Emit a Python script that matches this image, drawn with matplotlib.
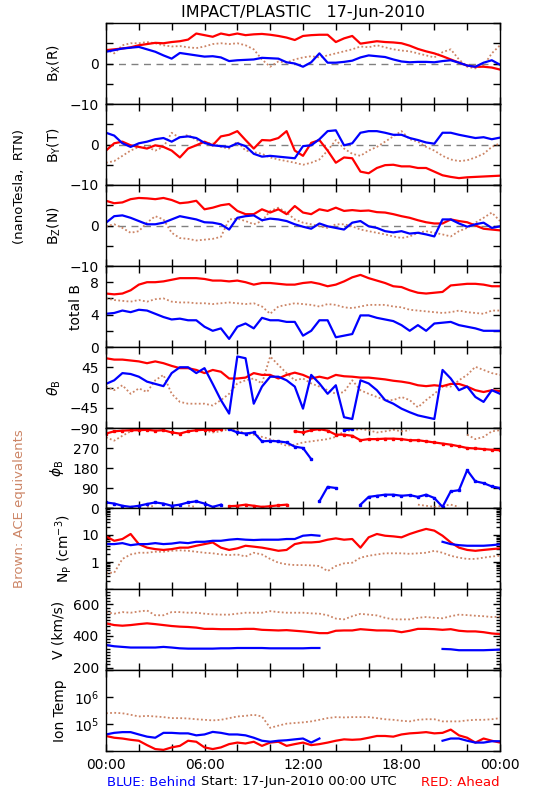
import numpy as np
import matplotlib
matplotlib.use('Agg')
import matplotlib.pyplot as plt
from matplotlib.ticker import MultipleLocator, FixedLocator, LogLocator, NullFormatter

nan = np.nan

# half-hour samples over the day (hours since 17-Jun-2010 00:00 UTC)
hours = np.linspace(0, 24, 49)

# B_R (nT)
bx_red = [3.3, 3.5, 3.7, 4.0, 4.5, 4.8, 5.1, 5.0, 5.3, 5.5, 5.9, 7.4, 7.0, 6.6, 7.4, 7.0, 7.4,
          7.0, 7.2, 7.3, 7.1, 6.8, 6.4, 5.8, 6.8, 7.0, 7.1, 7.1, 5.3, 6.2, 6.8, 4.9, 5.2, 5.5,
          5.3, 5.2, 5.0, 4.4, 3.6, 3.0, 2.5, 1.8, 1.0, 0.2, -0.5, -0.8, -0.8, -1.0, -1.5]
bx_blue = [2.9, 3.3, 3.7, 3.9, 4.1, 3.5, 2.9, 2.0, 1.2, 2.6, 2.3, 2.0, 1.7, 1.8, 1.5, 0.6, 0.8,
           0.9, 1.0, 1.4, 1.3, 1.2, 0.3, 0.0, -0.8, 0.3, 2.5, 0.2, 0.2, 0.4, 0.7, 1.5, 2.0, 1.8,
           1.6, 1.0, 0.5, 0.3, 0.4, 0.4, 0.3, 0.6, 0.8, 0.2, -0.5, -0.8, 0.2, 0.8, -0.3]
bx_ace = [3.5, 2.5, 4.5, 5.0, 5.0, 5.3, 5.0, 4.5, 4.2, 4.3, 4.0, 3.8, 4.2, 4.8, 5.0, 4.8, 5.0,
          4.5, 3.5, 1.0, -0.8, 0.5, 0.2, 1.0, 1.5, 1.8, 1.5, 2.0, 2.5, 3.0, 3.5, 4.2, 4.0, 4.5,
          4.0, 3.5, 3.2, 3.0, 2.5, 2.0, 1.5, 2.8, 3.5, 1.0, -0.8, -1.2, -0.5, 2.5, 4.5]

# B_T (nT)
by_red = [-1.5, 0.3, 0.7, -0.2, -0.6, -1.0, -0.2, -0.6, -1.5, -3.2, -1.0, -0.2, 0.7, -0.2, 2.0,
          2.4, 3.3, 1.1, -1.0, 1.1, 1.0, 1.6, 3.3, -1.5, -2.8, 0.4, 1.1, -1.5, -4.5, -3.2, -3.4,
          -6.7, -7.1, -5.8, -5.1, -5.0, -5.4, -5.4, -5.8, -5.8, -6.7, -7.6, -8.0, -8.3, -8.1,
          -8.0, -7.9, -7.8, -7.7]
by_blue = [2.9, 2.2, 0.3, -0.6, 0.3, 0.7, 1.3, 1.6, 0.7, 1.8, 2.0, 1.6, 0.4, -0.2, -0.4, -0.6,
           0.3, -0.4, -2.3, -3.0, -2.8, -3.0, -3.2, -3.4, -0.4, -0.2, 1.3, 3.3, 3.5, -0.2, 0.3,
           2.9, 3.3, 3.3, 2.9, 2.4, 2.4, 1.6, 1.1, 0.5, 0.2, 2.9, 2.9, 2.4, 2.0, 1.6, 1.8, 1.3, 1.7]
by_ace = [-4.5, -4.1, -2.8, -1.5, -0.6, -0.6, -1.5, -0.6, 2.9, 1.6, 2.4, 1.1, 0.3, 0.3, -0.6,
          -1.0, 0.7, -1.5, -1.9, -2.3, -3.2, -3.7, -4.1, -4.5, -5.0, -4.5, -3.7, -1.5, 1.1, -1.0,
          -2.3, -2.8, -1.5, -0.6, 0.7, 2.0, 3.3, 1.3, 0.7, -0.6, -1.5, -2.8, -3.7, -4.1, -3.9,
          -3.2, -2.3, -0.6, 0.3]

# B_N (nT)
bz_red = [6.1, 5.5, 5.7, 6.5, 6.8, 6.7, 6.5, 6.8, 6.3, 5.5, 5.7, 6.1, 4.0, 4.4, 5.0, 5.3, 3.6,
          2.8, 2.8, 4.0, 3.2, 4.0, 2.8, 4.8, 3.2, 2.8, 4.0, 3.6, 4.4, 3.6, 3.8, 3.6, 3.7, 3.3,
          3.2, 2.8, 2.3, 1.9, 1.3, 0.8, 0.5, 0.5, 1.5, 1.1, 0.8, 0.0, -0.8, -1.0, -1.2]
bz_blue = [0.7, 2.3, 2.5, 1.9, 1.1, 0.3, 0.3, 0.7, 1.5, 2.3, 1.9, 1.5, 0.8, 0.7, 0.3, -1.0, 1.9,
           2.3, 2.5, 1.3, 1.7, 1.5, 1.1, 0.3, -0.3, -0.8, 0.5, -0.2, -0.6, -1.0, 0.7, 1.1, -0.2,
           -0.6, -1.4, -1.7, -1.4, -2.0, -1.8, -2.2, -2.7, 1.5, 1.5, 0.5, -0.3, 0.3, 0.7, -0.6, -0.2]
bz_ace = [-0.2, 0.3, -0.6, -1.8, -1.4, 0.7, 2.3, 1.5, -1.8, -3.1, -3.3, -3.7, -3.5, -3.3, -2.8,
          1.5, 1.7, 1.1, 0.3, 1.1, 3.6, 4.4, 3.2, 1.5, 0.7, 0.3, -0.2, -0.6, 0.3, 0.3, -0.2, -1.0,
          -1.4, -1.8, -2.2, -2.7, -3.1, -2.7, -1.8, -1.4, -1.8, -2.2, -2.7, -1.4, -0.6, 0.7, 1.9,
          3.2, 1.1]

# |B| (nT)
bt_red = [6.6, 6.5, 6.6, 7.0, 7.7, 8.0, 8.0, 8.1, 8.3, 8.5, 8.5, 8.5, 8.4, 8.2, 8.2, 8.1, 8.2,
          8.0, 7.7, 7.9, 7.9, 7.8, 7.7, 7.7, 7.9, 8.0, 7.8, 7.5, 7.7, 8.1, 8.6, 8.9, 8.5, 8.2,
          7.9, 7.5, 7.4, 7.0, 6.7, 6.6, 6.7, 6.8, 7.6, 7.7, 7.8, 7.8, 7.7, 7.5, 7.5]
bt_blue = [4.1, 4.2, 4.5, 4.3, 4.6, 4.5, 4.1, 3.7, 3.4, 3.5, 3.3, 3.3, 2.5, 2.0, 2.3, 1.0, 2.5,
           2.9, 2.3, 3.6, 3.3, 3.3, 3.1, 3.1, 1.4, 2.0, 3.3, 3.3, 1.2, 1.4, 1.6, 3.9, 3.9, 3.6,
           3.4, 3.2, 2.7, 2.0, 2.7, 2.0, 2.9, 3.0, 3.1, 2.7, 2.5, 2.3, 2.0, 2.0, 2.0]
bt_ace = [6.0, 5.8, 5.7, 5.6, 5.8, 5.6, 5.9, 6.0, 5.6, 5.5, 5.5, 5.4, 5.4, 5.3, 5.4, 5.5, 5.4,
          5.3, 5.4, 5.0, 4.1, 5.0, 5.2, 5.4, 5.3, 5.2, 5.0, 5.3, 5.2, 4.9, 4.8, 5.0, 5.2, 5.2,
          5.2, 5.0, 4.9, 4.6, 4.5, 4.4, 4.3, 4.2, 4.3, 4.5, 4.3, 4.2, 4.1, 4.5, 4.5]

# theta_B (deg)
th_red = [65, 62, 62, 60, 58, 54, 58, 54, 48, 43, 43, 39, 32, 39, 35, 20, 20, 22, 32, 28, 28,
          20, 28, 33, 28, 20, 24, 20, 28, 25, 24, 22, 22, 20, 18, 15, 13, 10, 5, 3, 5, 3, 8, 8,
          2, -6, -10, -6, -8]
th_blue = [8, 16, 32, 30, 24, 13, 8, 3, 32, 45, 45, 32, 43, 8, -28, -58, 69, 65, -36, 2, 24, 24,
           16, 2, -47, 28, 9, -14, 5, -66, -70, 16, 9, -6, -28, -36, -47, -55, -62, -66, -70, 39,
           20, -6, 2, -21, -32, -6, -14]
th_ace = [2, -6, 5, -14, -2, -10, 16, 28, -14, -32, -36, -36, -36, -40, -28, -14, 9, 16, 20, 9,
          69, 50, 32, 16, 20, 9, 2, -6, -14, -10, 16, -6, -14, -21, -28, -28, -21, -28, -44, -28,
          -14, 2, 2, 16, 28, 46, 39, 32, 28]

# phi_B (deg)
ph_red = [335, 345, 348, 350, 350, 352, 348, 350, 340, 335, 345, 350, 352, 350, 355, 8, 10, 15,
          10, 5, 8, 12, 15, 345, 340, 350, 355, 348, 330, 330, 325, 305, 310, 310, 312, 312, 310,
          305, 305, 300, 295, 290, 285, 278, 270, 268, 265, 262, 260]
ph_blue = [25, 20, 10, 5, 10, 18, 25, 20, 10, 15, 25, 30, 20, 5, 15, 355, 340, 335, 340, 300,
           302, 300, 295, 276, 270, 220, 30, 95, 90, 350, 355, 15, 50, 55, 60, 60, 55, 58, 50,
           60, 45, 5, 75, 80, 170, 120, 112, 97, 90]
ph_ace = [318, 303, 325, 345, 355, 5, 10, 355, 15, 355, 10, 5, 350, 340, 345, 355, 350, 335,
          330, 320, 310, 295, 280, 285, 295, 300, 305, 310, 320, 345, 350, 355, 350, 340, 345,
          352, 345, 350, 15, 10, 5, 10, 15, 5, 330, 310, 320, 345, 350]

# proton density (cm^-3)
np_red = [8.9, 6.1, 7.1, 10.9, 4.6, 3.4, 3.0, 2.8, 3.0, 3.4, 3.4, 4.0, 4.6, 5.3, 3.4, 2.8, 3.2,
          4.0, 3.7, 3.4, 3.0, 2.6, 2.8, 4.6, 5.3, 5.3, 5.6, 6.7, 7.5, 6.7, 7.1, 3.4, 8.2, 10.9,
          9.4, 8.9, 8.2, 10.9, 13.7, 16.8, 14.5, 9.4, 5.3, 3.4, 2.8, 2.6, 2.8, 3.0, 3.2]
np_blue = [4.6, 4.6, 5.0, 4.2, 4.6, 4.6, 5.0, 4.6, 4.8, 5.3, 5.0, 5.6, 5.6, 6.1, 6.1, 6.7, 7.1,
           6.7, 6.5, 6.7, 6.7, 6.7, 7.1, 7.1, 9.4, 10.0, 9.4,
           nan, nan, nan, nan, nan, nan, nan, nan, nan, nan, nan, nan, nan, nan,
           5.6, 4.6, 4.2, 4.0, 4.0, 4.0, 4.2, 4.5]
np_ace = [0.4, 0.4, 1.3, 1.9, 2.2, 2.2, 2.4, 2.4, 2.6, 2.7, 2.6, 2.4, 2.2, 2.1, 1.9, 1.8, 1.9,
          1.6, 2.2, 1.9, 1.3, 0.94, 0.82, 0.77, 0.77, 0.75, 0.71, 0.46, 0.71, 0.89, 0.94, 1.45,
          1.7, 1.9, 2.1, 2.1, 2.1, 2.0, 2.1, 2.2, 2.6, 2.2, 1.7, 1.45, 1.3, 1.3, 1.45, 1.6, 1.7]

# bulk speed (km/s)
v_red = [480, 469, 465, 469, 475, 480, 475, 469, 463, 459, 457, 453, 445, 445, 443, 443, 443,
         445, 445, 439, 437, 435, 437, 433, 429, 424, 418, 418, 433, 435, 435, 443, 439, 435,
         435, 433, 424, 433, 445, 445, 443, 439, 443, 433, 429, 429, 424, 416, 412]
v_blue = [343, 335, 331, 327, 327, 327, 327, 331, 327, 322, 320, 320, 320, 320, 322, 322, 324,
          324, 324, 324, 322, 322, 322, 322, 322, 324, 324,
          nan, nan, nan, nan, nan, nan, nan, nan, nan, nan, nan, nan, nan, nan,
          318, 316, 310, 310, 310, 310, 312, 314]
v_ace = [551, 541, 551, 547, 555, 561, 531, 531, 551, 551, 547, 547, 541, 537, 535, 535, 541,
         547, 547, 547, 557, 551, 547, 547, 547, 543, 541, 531, 510, 505, 525, 540, 535, 530,
         515, 505, 505, 505, 515, 520, 515, 512, 525, 535, 532, 528, 525, 520, 522]

# ion temperature (K)
tp_red = [3.6e4, 3.1e4, 2.9e4, 2.6e4, 2.4e4, 1.65e4, 1.18e4, 1.1e4, 1.36e4, 1.55e4, 2.4e4,
          2.2e4, 1.36e4, 1.18e4, 1.36e4, 1.8e4, 2.05e4, 1.9e4, 2.2e4, 1.55e4, 2.05e4, 2.2e4,
          1.55e4, 1.8e4, 2.05e4, 1.65e4, 1.8e4, 2.05e4, 2.4e4, 2.7e4, 2.6e4, 2.7e4, 3.1e4,
          3.6e4, 3.6e4, 3.4e4, 4.1e4, 4.5e4, 4.7e4, 5.0e4, 4.5e4, 4.7e4, 6.2e4, 3.8e4, 3.1e4,
          2.05e4, 2.9e4, 2.4e4, 2.05e4]
tp_blue = [4.1e4, 4.7e4, 5.0e4, 5.0e4, 4.1e4, 3.4e4, 3.1e4, 4.7e4, 4.7e4, 4.5e4, 4.5e4, 3.8e4,
           4.1e4, 5.1e4, 4.7e4, 4.1e4, 4.1e4, 3.8e4, 3.1e4, 2.4e4, 2.2e4, 2.4e4, 2.5e4, 2.7e4,
           2.9e4, 2.05e4, 2.9e4,
           nan, nan, nan, nan, nan, nan, nan, nan, nan, nan, nan, nan, nan, nan,
           2.4e4, 2.9e4, 2.9e4, 2.4e4, 2.05e4, 2.05e4, 2.3e4, 2.3e4]
tp_ace = [2.5e5, 2.6e5, 2.5e5, 2.2e5, 1.9e5, 2.0e5, 1.9e5, 1.8e5, 1.65e5, 1.65e5, 1.6e5, 1.5e5,
          1.43e5, 1.36e5, 1.43e5, 1.65e5, 1.9e5, 2.0e5, 2.2e5, 1.9e5, 7.2e4, 8.7e4, 1.03e5,
          1.09e5, 1.15e5, 1.25e5, 1.43e5, 1.65e5, 1.8e5, 1.75e5, 1.8e5, 1.8e5, 1.8e5, 1.65e5,
          1.5e5, 1.43e5, 1.32e5, 1.25e5, 1.43e5, 1.5e5, 1.5e5, 1.25e5, 1.25e5, 1.25e5, 1.36e5,
          1.43e5, 1.43e5, 1.5e5, 1.65e5]

time_ticks = [0, 6, 12, 18, 24]
time_labels = ['00:00', '06:00', '12:00', '18:00', '00:00']

RED = '#ff0000'
BLUE = '#0000ff'
BROWN = '#cc8566'


def break_wraps(x, y):
    # don't draw a line across the 0/360 wrap of an angle
    xs, ys = [x[0]], [y[0]]
    for i in range(1, len(y)):
        if abs(y[i] - y[i - 1]) > 180:
            xs.append(nan)
            ys.append(nan)
        xs.append(x[i])
        ys.append(y[i])
    return xs, ys


panels = [
    (bx_red, bx_blue, bx_ace, 'B$_{\\rm X}$(R)'),
    (by_red, by_blue, by_ace, 'B$_{\\rm Y}$(T)'),
    (bz_red, bz_blue, bz_ace, 'B$_{\\rm Z}$(N)'),
    (bt_red, bt_blue, bt_ace, 'total B'),
    (th_red, th_blue, th_ace, '$\\theta_{\\rm B}$'),
    (ph_red, ph_blue, ph_ace, '$\\phi_{\\rm B}$'),
    (np_red, np_blue, np_ace, 'N$_{\\rm P}$ (cm$^{-3}$)'),
    (v_red, v_blue, v_ace, 'V (km/s)'),
    (tp_red, tp_blue, tp_ace, 'Ion Temp'),
]

W, H = 550.0, 800.0
edges = [23, 104, 185, 266, 347, 428, 508, 589, 670, 751]

fig = plt.figure(figsize=(5.5, 8), dpi=100)
fig.patch.set_facecolor('white')

for i, (red, blue, ace, label) in enumerate(panels):
    top, bot = edges[i], edges[i + 1]
    ax = fig.add_axes([106 / W, 1 - bot / H, 394 / W, (bot - top) / H])

    if i == 5:
        ax.plot(*break_wraps(hours, ace), color=BROWN, lw=1.3, ls=(0, (1, 1.3)))
        ax.plot(*break_wraps(hours, red), color=RED, lw=1.6, marker='s', ms=1.8)
        ax.plot(*break_wraps(hours, blue), color=BLUE, lw=1.6, marker='s', ms=1.8)
    else:
        ax.plot(hours, ace, color=BROWN, lw=1.3, ls=(0, (1, 1.3)))
        ax.plot(hours, red, color=RED, lw=1.6)
        ax.plot(hours, blue, color=BLUE, lw=1.6)

    if i < 3:
        ax.axhline(0, color='#808080', lw=1, ls=(0, (5, 4)), zorder=0)
        ax.set_ylim(-10, 10)
        ax.yaxis.set_major_locator(FixedLocator([-10, -5, 0, 5, 10]))
        ax.set_yticklabels(['\u221210', '', '0', '', ''])
    elif i == 3:
        ax.set_ylim(0, 10)
        ax.yaxis.set_major_locator(FixedLocator([0, 2, 4, 6, 8, 10]))
        ax.set_yticklabels(['0', '', '4', '', '8', ''])
    elif i == 4:
        ax.set_ylim(-90, 90)
        ax.yaxis.set_major_locator(FixedLocator([-90, -45, 0, 45, 90]))
        ax.set_yticklabels(['\u221290', '\u221245', '0', '45', ''])
    elif i == 5:
        ax.set_ylim(0, 360)
        ax.yaxis.set_major_locator(FixedLocator([0, 90, 180, 270, 360]))
        ax.set_yticklabels(['0', '90', '180', '270', ''])
    elif i == 6:
        ax.set_yscale('log')
        ax.set_ylim(0.1, 100)
        ax.yaxis.set_major_locator(FixedLocator([0.1, 1, 10, 100]))
        ax.set_yticklabels(['', '1', '10', ''])
        ax.yaxis.set_minor_locator(LogLocator(subs=np.arange(2, 10), numticks=20))
        ax.yaxis.set_minor_formatter(NullFormatter())
    elif i == 7:
        ax.set_ylim(185, 697)
        ax.yaxis.set_major_locator(FixedLocator([200, 400, 600]))
        ax.set_yticklabels(['200', '400', '600'])
        ax.yaxis.set_minor_locator(MultipleLocator(20))
    else:
        ax.set_yscale('log')
        ax.set_ylim(1e4, 1e7)
        ax.yaxis.set_major_locator(FixedLocator([1e4, 1e5, 1e6, 1e7]))
        ax.set_yticklabels(['', '$10^5$', '$10^6$', ''])
        ax.yaxis.set_minor_locator(FixedLocator([]))

    ax.set_xlim(0, 24)
    ax.xaxis.set_major_locator(FixedLocator(time_ticks))
    ax.xaxis.set_minor_locator(MultipleLocator(2))
    if i == 8:
        ax.set_xticklabels(time_labels)
    else:
        ax.set_xticklabels([])

    ax.tick_params(which='both', direction='in', top=True, right=True, width=1,
                   labelsize=10, pad=5, length=5)
    ax.tick_params(axis='y', which='minor', length=3)
    for s in ax.spines.values():
        s.set_linewidth(1)

    ax.set_ylabel(label, fontsize=10, labelpad=5)

fig.text(303 / W, 1 - 12 / H, 'IMPACT/PLASTIC   17-Jun-2010', ha='center', va='center',
         fontsize=11.5)
fig.text(20 / W, 1 - 187 / H, '(nanoTesla,  RTN)', rotation=90, ha='center', va='center',
         fontsize=9.5)
fig.text(20 / W, 1 - 509 / H, 'Brown: ACE equivalents', rotation=90, ha='center',
         va='center', fontsize=9.5, color=BROWN)
fig.text(107 / W, 1 - 782 / H, 'BLUE: Behind', ha='left', va='center', fontsize=9.5,
         color=BLUE)
fig.text(201 / W, 1 - 782 / H, 'Start: 17-Jun-2010 00:00 UTC', ha='left', va='center',
         fontsize=9.5)
fig.text(500 / W, 1 - 782 / H, 'RED: Ahead', ha='right', va='center', fontsize=9.5,
         color=RED)

fig.savefig('out.png', dpi=100)
